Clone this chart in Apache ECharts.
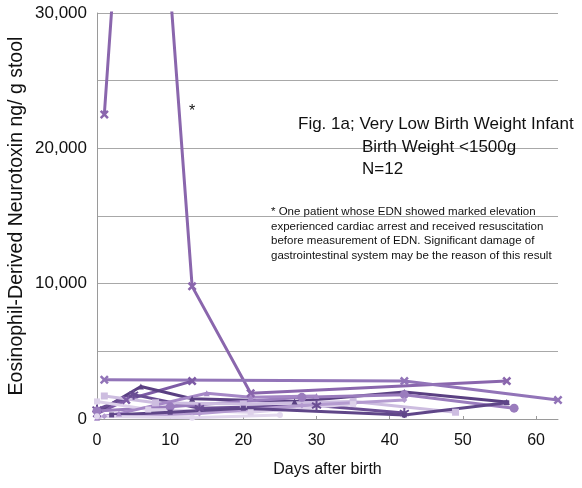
<!DOCTYPE html>
<html>
<head>
<meta charset="utf-8">
<script src="https://cdn.jsdelivr.net/npm/echarts@6/dist/echarts.min.js"></script>
<style>html,body{margin:0;padding:0;background:#fff;}#c{width:582px;height:488px;}</style>
</head>
<body>
<div id="c"></div>
<script>
// ---- data (days after birth, EDN ng/g stool) ----
const xTicks = [0, 10, 20, 30, 40, 50, 60];
const yTicks = [0, 10000, 20000, 30000];

const s1Days = [1, 6, 13, 21, 56];
const s1Vals = [22500, 61000, 9800, 1900, 2800];
const s2Days = [1, 42, 63];
const s2Vals = [2900, 2800, 1400];
const s3Days = [0, 4, 13];
const s3Vals = [400, 1400, 2800];
const s4Days = [0, 6, 13, 27, 42, 56];
const s4Vals = [500, 2400, 1500, 1300, 2000, 1250];
const s5Days = [0, 5, 14, 30, 42];
const s5Vals = [700, 1800, 800, 1000, 450];
const s6Days = [0, 10, 28, 42, 57];
const s6Vals = [600, 900, 1600, 1800, 800];
const s7Days = [1, 8, 20, 35, 49];
const s7Vals = [1700, 1200, 1100, 1300, 500];
const s8Days = [0, 7, 21, 35];
const s8Vals = [1300, 700, 500, 1100];
const s9Days = [1, 14, 28, 42];
const s9Vals = [200, 400, 1000, 1400];
const s10Days = [0, 3, 15, 21, 30];
const s10Vals = [100, 400, 1900, 1600, 1700];
const s11Days = [2, 10, 20, 42, 56];
const s11Vals = [300, 500, 800, 300, 1200];
const s12Days = [0, 13, 25];
const s12Vals = [200, 100, 300];

const xPath = 'path://M2,0 L5,3 L8,0 L10,2 L7,5 L10,8 L8,10 L5,7 L2,10 L0,8 L3,5 L0,2 Z';
const starPath = 'path://M4,0 L6,0 L6,3.3 L9,1.5 L10,3.2 L7,5 L10,6.8 L9,8.5 L6,6.7 L6,10 L4,10 L4,6.7 L1,8.5 L0,6.8 L3,5 L0,3.2 L1,1.5 L4,3.3 Z';

const seriesDefs = [
  {d: s1Days, v: s1Vals, c: '#8a66ad', sym: xPath, size: 9},
  {d: s2Days, v: s2Vals, c: '#9274b8', sym: xPath, size: 9},
  {d: s3Days, v: s3Vals, c: '#7d5ba5', sym: xPath, size: 9},
  {d: s4Days, v: s4Vals, c: '#5a4082', sym: 'triangle', size: 6},
  {d: s5Days, v: s5Vals, c: '#6a4d93', sym: starPath, size: 10},
  {d: s6Days, v: s6Vals, c: '#9a7cbd', sym: 'circle', size: 9},
  {d: s7Days, v: s7Vals, c: '#cdbde0', sym: 'rect', size: 7},
  {d: s8Days, v: s8Vals, c: '#ddd1ea', sym: 'rect', size: 6},
  {d: s9Days, v: s9Vals, c: '#b49bd0', sym: 'diamond', size: 6},
  {d: s10Days, v: s10Vals, c: '#a587c6', sym: 'triangle', size: 6},
  {d: s11Days, v: s11Vals, c: '#5f4688', sym: 'rect', size: 5},
  {d: s12Days, v: s12Vals, c: '#e2d8ee', sym: 'circle', size: 6}
];

const font = 'Liberation Sans, Arial, sans-serif';
const chart = echarts.init(document.getElementById('c'), null, {renderer: 'canvas'});

const series = seriesDefs.map((s, i) => ({
  type: 'line',
  name: 'P' + (i + 1),
  data: s.d.map((d, j) => [d, s.v[j]]),
  symbol: s.sym,
  symbolSize: s.size,
  showSymbol: true,
  clip: true,
  lineStyle: {color: s.c, width: 3},
  itemStyle: {color: s.c},
  z: 3,
  animation: false
}));

chart.setOption({
  animation: false,
  backgroundColor: '#ffffff',
  grid: {left: 97, top: 13, right: 24, bottom: 69, containLabel: false, outerBoundsMode: 'none'},
  xAxis: {
    type: 'value', min: 0, max: 63, interval: 10,
    name: 'Days after birth', nameLocation: 'middle', nameGap: 43, nameMoveOverlap: false,
    nameTextStyle: {fontFamily: font, fontSize: 16, color: '#111'},
    axisLine: {show: true, lineStyle: {color: '#9a9a9a', width: 1}},
    axisTick: {show: true, inside: true, length: 3, lineStyle: {color: '#9a9a9a'}},
    axisLabel: {fontFamily: font, fontSize: 16, color: '#111', margin: 14, showMaxLabel: false,
      formatter: v => xTicks.indexOf(v) >= 0 ? String(v) : ''},
    splitLine: {show: false}
  },
  yAxis: {
    type: 'value', min: 0, max: 30000, interval: 5000,
    name: 'Eosinophil-Derived Neurotoxin ng/ g stool', nameLocation: 'middle', nameGap: 70, nameMoveOverlap: false,
    nameTextStyle: {fontFamily: font, fontSize: 19.5, color: '#111'},
    axisLine: {show: true, lineStyle: {color: '#9a9a9a', width: 1}},
    axisTick: {show: false},
    axisLabel: {fontFamily: font, fontSize: 17, color: '#111', margin: 10,
      formatter: v => yTicks.indexOf(v) >= 0 ? v.toLocaleString('en-US') : ''},
    splitLine: {show: true, lineStyle: {color: '#a8a8a8', width: 1}}
  },
  series: series,
  graphic: [
    {type: 'text', left: 189, top: 104, style: {text: '*', font: '16px ' + font, fill: '#111'}, z: 10},
    {type: 'text', left: 298, top: 116, style: {text: 'Fig. 1a; Very Low Birth Weight Infant', font: '17px ' + font, fill: '#111'}, z: 10},
    {type: 'text', left: 362, top: 139, style: {text: 'Birth Weight <1500g', font: '17px ' + font, fill: '#111'}, z: 10},
    {type: 'text', left: 362, top: 161, style: {text: 'N=12', font: '17px ' + font, fill: '#111'}, z: 10},
    {type: 'text', left: 271, top: 205, style: {
      text: '* One patient whose EDN showed marked elevation\nexperienced cardiac arrest and received resuscitation\nbefore measurement of EDN. Significant damage of\ngastrointestinal system may be the reason of this result',
      font: '11.5px ' + font, fill: '#111', lineHeight: 14.5}, z: 10}
  ]
});
</script>
</body>
</html>
